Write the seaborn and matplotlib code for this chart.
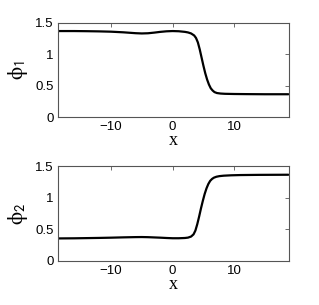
import matplotlib
matplotlib.use('Agg')
import matplotlib.pyplot as plt
import numpy as np
import pandas as pd
import seaborn as sns

# values
x1 = [-18.8, -16, -14, -12, -10, -8, -7, -6, -5, -4, -3, -2, -1, 0, 1, 2, 2.5, 3,
      3.5, 3.8, 4.1, 4.4, 4.7, 5.0, 5.3, 5.6, 5.9, 6.2, 6.5, 6.8, 7.2, 7.8, 8.5, 10, 12, 15, 18.8]
phi1 = [1.37, 1.37, 1.368, 1.365, 1.36, 1.35, 1.343, 1.336, 1.332, 1.335, 1.345, 1.357, 1.366, 1.37,
        1.367, 1.357, 1.348, 1.332, 1.30, 1.26, 1.19, 1.08, 0.95, 0.82, 0.70, 0.60, 0.52, 0.46,
        0.425, 0.40, 0.385, 0.377, 0.373, 0.37, 0.368, 0.366, 0.366]

x2 = [-18.8, -16, -14, -12, -10, -8, -6, -5, -4, -2, -1, 0, 1, 2, 2.5, 3, 3.4, 3.7,
      4.0, 4.3, 4.6, 4.9, 5.2, 5.5, 5.8, 6.1, 6.4, 6.7, 7.1, 7.6, 8.3, 9.5, 11, 14, 18.8]
phi2 = [0.355, 0.357, 0.36, 0.363, 0.367, 0.372, 0.376, 0.377, 0.375, 0.367, 0.362, 0.358,
        0.358, 0.362, 0.368, 0.385, 0.42, 0.48, 0.58, 0.70, 0.83, 0.95, 1.06, 1.15, 1.22,
        1.27, 1.30, 1.32, 1.335, 1.345, 1.352, 1.358, 1.362, 1.365, 1.367]

xticks = [-10, 0, 10]
yticks = [0, 0.5, 1, 1.5]
ytick_labels = ['0', '0.5', '1', '1.5']

sns.set_style('white')
plt.rcParams['font.family'] = ['Liberation Sans', 'DejaVu Sans']
plt.rcParams['mathtext.fontset'] = 'stix'
plt.rcParams['xtick.direction'] = 'in'
plt.rcParams['ytick.direction'] = 'in'

fig, axes = plt.subplots(2, 1, figsize=(3.19, 3.05), dpi=100)
fig.subplots_adjust(left=0.182, right=0.906, top=0.925, bottom=0.145, hspace=0.52)

panels = [(x1, phi1, r'$\mathrm{\phi}_\mathsf{1}$'), (x2, phi2, r'$\mathrm{\phi}_\mathsf{2}$')]
for ax, (xs, ys, lab) in zip(axes, panels):
    df = pd.DataFrame({'x': xs, 'y': ys})
    sns.lineplot(data=df, x='x', y='y', ax=ax, color='black', linewidth=1.6, estimator=None)
    ax.set_xlim(-18.6, 18.9)
    ax.set_ylim(0, 1.5)
    ax.set_xticks(xticks)
    ax.set_xticklabels(['\u221210', '0', '10'])
    ax.set_yticks(yticks)
    ax.set_yticklabels(ytick_labels)
    ax.tick_params(labelsize=9.5, length=3, width=0.6, color='#555555', labelcolor='black',
                   top=True, right=True, pad=3)
    for s in ax.spines.values():
        s.set_color('#555555')
        s.set_linewidth(0.8)
    ax.set_xlabel('x', family='Liberation Serif', fontsize=13, labelpad=-1, color='black')
    ax.set_ylabel(lab, fontsize=15, labelpad=4, color='black')

fig.savefig('out.png', dpi=100)
